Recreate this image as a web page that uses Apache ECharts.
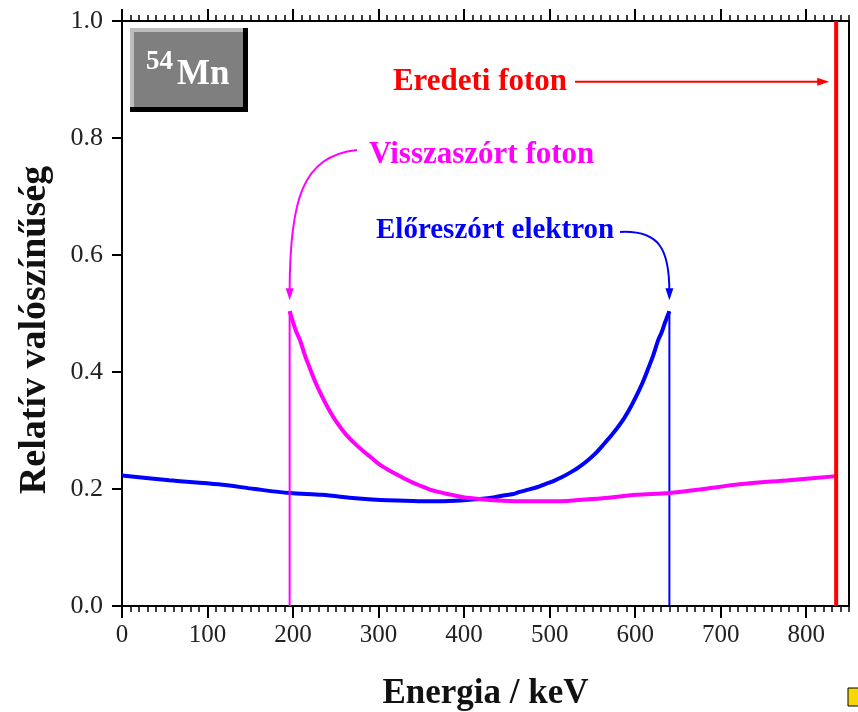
<!DOCTYPE html>
<html><head><meta charset="utf-8">
<script src="https://cdn.jsdelivr.net/npm/echarts@6/dist/echarts.min.js"></script>
<style>html,body{margin:0;padding:0;background:#fff}#c{width:858px;height:712px}</style>
</head><body><div id="c"></div>
<script>
// Forward-scattered electron energy distribution (keV, relative probability)
const electronCurve = [[0,0.223],[55,0.215],[113,0.208],[155,0.200],[196,0.193],[234,0.190],[273,0.184],[302,0.181],[331,0.180],[360,0.179],[390,0.180],[418,0.183],[436,0.186],[446,0.189],[456,0.191],[465,0.195],[475,0.199],[485,0.203],[494,0.208],[505,0.214],[514,0.220],[524,0.228],[533,0.236],[543,0.247],[553,0.260],[563,0.276],[573,0.293],[583,0.312],[592,0.333],[601,0.358],[609,0.383],[615,0.405],[621,0.428],[627,0.455],[631,0.468],[635,0.485],[640,0.504]];
// Backscattered photon energy distribution
const photonCurve = [[196,0.504],[200,0.485],[204,0.468],[208,0.455],[214,0.428],[220,0.405],[226,0.383],[234,0.358],[243,0.333],[252,0.312],[262,0.293],[272,0.278],[282,0.265],[292,0.253],[301,0.242],[311,0.233],[321,0.225],[330,0.218],[340,0.211],[350,0.205],[360,0.199],[370,0.195],[379,0.192],[389,0.189],[399,0.186],[418,0.183],[445,0.180],[475,0.179],[504,0.179],[533,0.181],[562,0.184],[601,0.190],[640,0.193],[680,0.200],[722,0.208],[780,0.215],[835,0.222]];
const photonEnergy = 835;      // Eredeti foton
const comptonEdge = 640;       // max electron energy
const backscatterEnergy = 196; // min photon energy
const edgeValue = 0.504;
const xTickValues = [0,100,200,300,400,500,600,700,800];
const yTickLabels = ['0.0','0.2','0.4','0.6','0.8','1.0'];

const chart = echarts.init(document.getElementById('c'));
const serif = 'Liberation Serif';
const gridRect = {left:122, right:9, top:21, bottom:106, outerBoundsMode:'none', containLabel:false};
const blk = '#000';

function majorX(pos, labels){
  return {
    type:'value', gridIndex:0, position:pos, min:0, max:850, interval:100,
    name: labels ? 'Energia / keV' : '', nameLocation:'middle', nameGap:70,
    nameTextStyle:{fontFamily:serif, fontWeight:'bold', fontSize:35, color:'#111'},
    axisLine:{show:true, onZero:false, lineStyle:{color:blk, width:2}},
    axisTick:{show:true, length:12, lineStyle:{color:blk, width:2}, customValues:xTickValues},
    axisLabel:{show:labels, fontFamily:serif, fontSize:25, color:'#222', margin:17, customValues:xTickValues},
    splitLine:{show:false}
  };
}
function minorX(pos){
  return {
    type:'value', gridIndex:1, position:pos, min:0, max:850, interval:10,
    axisLine:{show:false, onZero:false},
    axisTick:{show:true, length:6, lineStyle:{color:blk, width:1.5}},
    axisLabel:{show:false}, splitLine:{show:false}
  };
}

const option = {
  animation:false,
  backgroundColor:'#fff',
  grid:[Object.assign({}, gridRect), Object.assign({}, gridRect)],
  xAxis:[majorX('bottom', true), majorX('top', false), minorX('bottom'), minorX('top')],
  yAxis:[
    {type:'value', gridIndex:0, position:'left', min:0, max:1, interval:0.2,
     axisLine:{show:true, onZero:false, lineStyle:{color:blk, width:2}},
     axisTick:{show:true, length:10, lineStyle:{color:blk, width:2}},
     axisLabel:{fontFamily:serif, fontSize:26, color:'#222', margin:19,
       formatter:(v)=>yTickLabels[Math.round(v/0.2)]},
     splitLine:{show:false}},
    {type:'value', gridIndex:0, position:'right', min:0, max:1,
     axisLine:{show:true, onZero:false, lineStyle:{color:blk, width:2}},
     axisTick:{show:false}, axisLabel:{show:false}, splitLine:{show:false}},
    {type:'value', gridIndex:1, min:0, max:1, show:false}
  ],
  series:[
    {type:'line', name:'elektron', xAxisIndex:0, yAxisIndex:0, data:electronCurve, smooth:0.3, showSymbol:false,
     lineStyle:{color:'#0000ff', width:4}, z:3},
    {type:'line', xAxisIndex:0, yAxisIndex:0, data:[[comptonEdge,0],[comptonEdge,edgeValue]], showSymbol:false,
     lineStyle:{color:'#0000ff', width:2}, z:3},
    {type:'line', name:'foton', xAxisIndex:0, yAxisIndex:0, data:photonCurve, smooth:0.3, showSymbol:false,
     lineStyle:{color:'#ff00ff', width:4}, z:4},
    {type:'line', xAxisIndex:0, yAxisIndex:0, data:[[backscatterEnergy,0],[backscatterEnergy,edgeValue]], showSymbol:false,
     lineStyle:{color:'#ff00ff', width:2}, z:4},
    {type:'line', xAxisIndex:0, yAxisIndex:0, data:[[photonEnergy,0],[photonEnergy,1]], showSymbol:false,
     lineStyle:{color:'#ff0000', width:4}, z:5}
  ]
};
chart.setOption(option);

const P = (x,y)=>chart.convertToPixel({xAxisIndex:0, yAxisIndex:0},[x,y]);
const red = P(photonEnergy, 0.896);
const mag = P(backscatterEnergy, edgeValue);
const blu = P(comptonEdge, edgeValue);

function head(tx, ty, dir, color){
  const L = 12, W = 4;
  const pts = dir==='right' ? [[tx,ty],[tx-L,ty-W],[tx-L,ty+W]] : [[tx,ty],[tx-W,ty-L],[tx+W,ty-L]];
  return {type:'polygon', shape:{points:pts}, style:{fill:color}, z:20};
}
const redTip = red[0]-7, redY = red[1];
const magTipY = mag[1]-11, bluTipY = blu[1]-11;

chart.setOption({graphic:[
  // y-axis title
  {type:'text', x:35, y:330, rotation:Math.PI/2, style:{text:'Relatív valószínűség', fill:'#111', font:'bold 38px "Liberation Serif"', textAlign:'center', textVerticalAlign:'middle'}, z:20},
  // 54Mn box
  {type:'rect', shape:{x:130,y:28,width:118,height:84}, style:{fill:'#000'}, z:10},
  {type:'rect', shape:{x:130,y:28,width:113,height:79}, style:{fill:'#bdbdbd'}, z:11},
  {type:'rect', shape:{x:134,y:32,width:109,height:75}, style:{fill:'#7f7f7f'}, z:12},
  {type:'text', left:146, top:49, style:{text:'54', fill:'#fff', font:'bold 27px "Liberation Serif"'}, z:13},
  {type:'text', left:177, top:57, style:{text:'Mn', fill:'#fff', font:'bold 35px "Liberation Serif"'}, z:13},
  // Eredeti foton
  {type:'text', x:480, y:redY, style:{text:'Eredeti foton', fill:'#ff0000', font:'bold 31px "Liberation Serif"', textAlign:'center', textVerticalAlign:'middle'}, z:20},
  {type:'line', shape:{x1:575,y1:redY,x2:redTip-8,y2:redY}, style:{stroke:'#ff0000', lineWidth:2}, z:20},
  head(redTip, redY, 'right', '#ff0000'),
  // Visszaszórt foton
  {type:'text', x:369, y:155, style:{text:'Visszaszórt foton', fill:'#ff00ff', font:'bold 31px "Liberation Serif"', textAlign:'left', textVerticalAlign:'middle'}, z:20},
  {type:'bezierCurve', shape:{x1:357,y1:150,cpx1:302,cpy1:156,cpx2:mag[0],cpy2:200,x2:mag[0],y2:magTipY-8}, style:{stroke:'#ff00ff', lineWidth:2, fill:null}, z:20},
  head(mag[0], magTipY, 'down', '#ff00ff'),
  // Előreszórt elektron
  {type:'text', x:376, y:231, style:{text:'Előreszórt elektron', fill:'#0000ff', font:'bold 29px "Liberation Serif"', textAlign:'left', textVerticalAlign:'middle'}, z:20},
  {type:'bezierCurve', shape:{x1:620,y1:232,cpx1:660,cpy1:230,cpx2:blu[0],cpy2:250,x2:blu[0],y2:bluTipY-8}, style:{stroke:'#0000ff', lineWidth:2, fill:null}, z:20},
  head(blu[0], bluTipY, 'down', '#0000ff'),
  // corner badge
  {type:'rect', shape:{x:848,y:688,width:12,height:18}, style:{fill:'#f5d800', stroke:'#000', lineWidth:1}, z:20}
]});
</script></body></html>
